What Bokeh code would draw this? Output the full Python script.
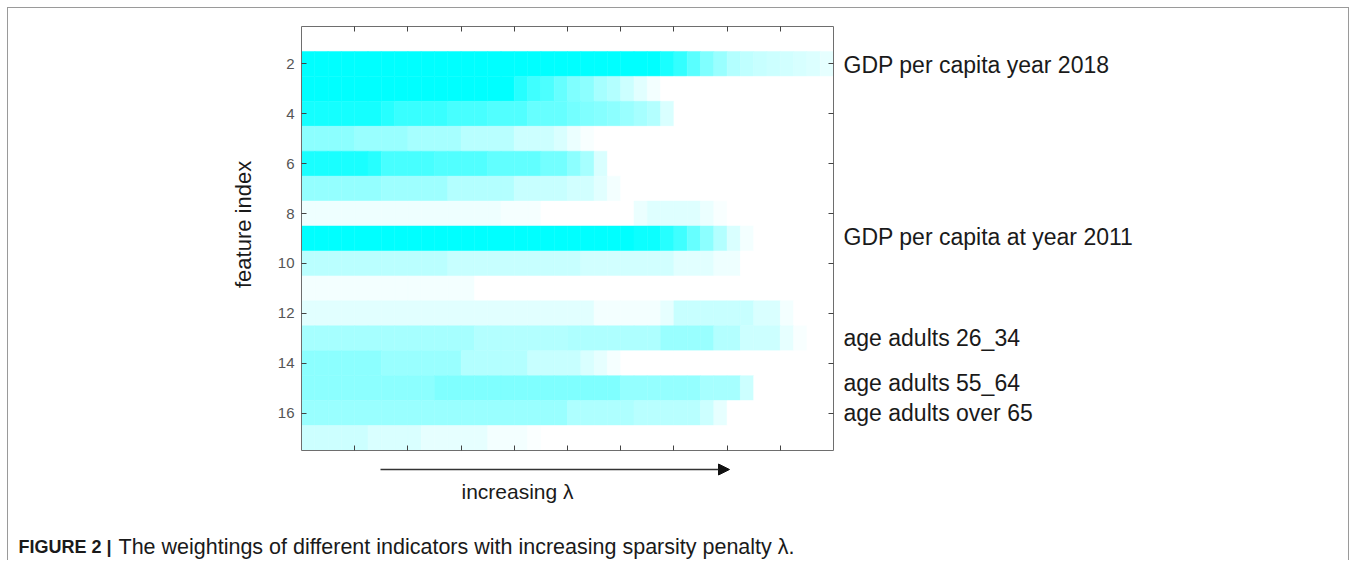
from bokeh.plotting import figure
from bokeh.layouts import column, row
from bokeh.models import Range1d, LinearAxis, FixedTicker, Arrow, NormalHead, ColumnDataSource
from bokeh.core.properties import value
from bokeh.transform import linear_cmap
from bokeh.embed import file_html
from bokeh.resources import INLINE

# ---- data: weight of each feature (rows 1..17) along 40 lambda steps (0 = none, 1 = max) ----
feat01 = [0, 0, 0, 0, 0, 0, 0, 0, 0, 0, 0, 0, 0, 0, 0, 0, 0, 0, 0, 0,
          0, 0, 0, 0, 0, 0, 0, 0, 0, 0, 0, 0, 0, 0, 0, 0, 0, 0, 0, 0]
feat02 = [1, 1, 1, 1, 1, 1, 1, 1, 1, 1, 1, 1, 1, 1, 1, 1, 1, 1, 1, 1,
          1, 1, 1, 1, 1, 1, 1, 0.9, 0.8, 0.65, 0.5, 0.4, 0.3, 0.25, 0.22, 0.2, 0.18, 0.16, 0.14, 0.1]
feat03 = [1, 1, 1, 1, 1, 1, 1, 1, 1, 1, 1, 1, 1, 1, 1, 1, 0.85, 0.75, 0.7, 0.6,
          0.5, 0.45, 0.35, 0.3, 0.2, 0.12, 0.05, 0, 0, 0, 0, 0, 0, 0, 0, 0, 0, 0, 0, 0]
feat04 = [0.92, 0.92, 0.92, 0.92, 0.92, 0.92, 0.85, 0.78, 0.78, 0.78, 0.78, 0.72, 0.72, 0.72, 0.68, 0.68, 0.68, 0.6, 0.6, 0.6,
          0.55, 0.5, 0.48, 0.45, 0.4, 0.35, 0.3, 0.15, 0, 0, 0, 0, 0, 0, 0, 0, 0, 0, 0, 0]
feat05 = [0.45, 0.45, 0.45, 0.45, 0.4, 0.4, 0.4, 0.4, 0.35, 0.35, 0.35, 0.35, 0.28, 0.28, 0.28, 0.28, 0.2, 0.2, 0.2, 0.15,
          0.08, 0.03, 0, 0, 0, 0, 0, 0, 0, 0, 0, 0, 0, 0, 0, 0, 0, 0, 0, 0]
feat06 = [0.9, 0.9, 0.9, 0.9, 0.9, 0.85, 0.72, 0.72, 0.72, 0.72, 0.68, 0.68, 0.68, 0.68, 0.62, 0.62, 0.62, 0.62, 0.55, 0.55,
          0.45, 0.35, 0.15, 0, 0, 0, 0, 0, 0, 0, 0, 0, 0, 0, 0, 0, 0, 0, 0, 0]
feat07 = [0.42, 0.42, 0.42, 0.42, 0.42, 0.42, 0.38, 0.38, 0.38, 0.38, 0.38, 0.3, 0.3, 0.3, 0.3, 0.3, 0.22, 0.22, 0.22, 0.22,
          0.18, 0.18, 0.12, 0.05, 0, 0, 0, 0, 0, 0, 0, 0, 0, 0, 0, 0, 0, 0, 0, 0]
feat08 = [0.07, 0.07, 0.07, 0.07, 0.07, 0.07, 0.07, 0.07, 0.07, 0.07, 0.07, 0.07, 0.07, 0.07, 0.07, 0.04, 0.04, 0.04, 0, 0,
          0, 0, 0, 0, 0, 0.08, 0.13, 0.13, 0.13, 0.13, 0.08, 0.03, 0, 0, 0, 0, 0, 0, 0, 0]
feat09 = [1, 1, 1, 1, 1, 1, 1, 1, 1, 1, 1, 1, 1, 1, 1, 1, 1, 1, 1, 1,
          1, 1, 1, 1, 1, 0.95, 0.95, 0.85, 0.75, 0.6, 0.45, 0.3, 0.15, 0.05, 0, 0, 0, 0, 0, 0]
feat10 = [0.27, 0.27, 0.27, 0.27, 0.27, 0.27, 0.27, 0.27, 0.27, 0.27, 0.27, 0.22, 0.22, 0.22, 0.22, 0.22, 0.22, 0.22, 0.22, 0.22,
          0.22, 0.18, 0.18, 0.18, 0.18, 0.18, 0.18, 0.18, 0.12, 0.12, 0.12, 0.07, 0.07, 0, 0, 0, 0, 0, 0, 0]
feat11 = [0.05, 0.05, 0.05, 0.05, 0.05, 0.05, 0.05, 0.05, 0.05, 0.05, 0.05, 0.05, 0.05, 0, 0, 0, 0, 0, 0, 0,
          0, 0, 0, 0, 0, 0, 0, 0, 0, 0, 0, 0, 0, 0, 0, 0, 0, 0, 0, 0]
feat12 = [0.12, 0.12, 0.12, 0.12, 0.12, 0.12, 0.12, 0.12, 0.12, 0.12, 0.12, 0.12, 0.12, 0.12, 0.12, 0.12, 0.12, 0.12, 0.12, 0.12,
          0.12, 0.12, 0.05, 0.05, 0.05, 0.05, 0.05, 0.1, 0.22, 0.22, 0.22, 0.22, 0.22, 0.22, 0.15, 0.15, 0.05, 0, 0, 0]
feat13 = [0.35, 0.35, 0.35, 0.35, 0.35, 0.35, 0.35, 0.35, 0.35, 0.35, 0.35, 0.35, 0.35, 0.3, 0.3, 0.3, 0.3, 0.3, 0.3, 0.3,
          0.32, 0.32, 0.32, 0.32, 0.32, 0.32, 0.32, 0.4, 0.4, 0.4, 0.4, 0.3, 0.3, 0.2, 0.2, 0.2, 0.1, 0.03, 0, 0]
feat14 = [0.45, 0.45, 0.45, 0.45, 0.45, 0.45, 0.4, 0.4, 0.4, 0.4, 0.4, 0.4, 0.3, 0.3, 0.3, 0.3, 0.3, 0.22, 0.22, 0.22,
          0.22, 0.15, 0.1, 0.04, 0, 0, 0, 0, 0, 0, 0, 0, 0, 0, 0, 0, 0, 0, 0, 0]
feat15 = [0.45, 0.45, 0.45, 0.45, 0.45, 0.45, 0.45, 0.45, 0.45, 0.45, 0.5, 0.5, 0.5, 0.5, 0.5, 0.5, 0.5, 0.5, 0.5, 0.5,
          0.5, 0.5, 0.5, 0.5, 0.42, 0.42, 0.42, 0.42, 0.42, 0.42, 0.35, 0.35, 0.35, 0.2, 0, 0, 0, 0, 0, 0]
feat16 = [0.4, 0.4, 0.4, 0.4, 0.4, 0.4, 0.4, 0.4, 0.4, 0.4, 0.4, 0.4, 0.4, 0.4, 0.4, 0.4, 0.4, 0.4, 0.4, 0.4,
          0.32, 0.32, 0.32, 0.32, 0.32, 0.28, 0.28, 0.28, 0.28, 0.28, 0.2, 0.1, 0, 0, 0, 0, 0, 0, 0, 0]
feat17 = [0.2, 0.2, 0.2, 0.2, 0.2, 0.15, 0.15, 0.15, 0.15, 0.1, 0.1, 0.1, 0.1, 0.1, 0.05, 0.05, 0.05, 0.02, 0, 0,
          0, 0, 0, 0, 0, 0, 0, 0, 0, 0, 0, 0, 0, 0, 0, 0, 0, 0, 0, 0]

features = [feat01, feat02, feat03, feat04, feat05, feat06, feat07, feat08, feat09,
            feat10, feat11, feat12, feat13, feat14, feat15, feat16, feat17]

y_ticks = [2, 4, 6, 8, 10, 12, 14, 16]
x_ticks = [4, 8, 12, 16, 20, 24, 28, 32, 36]

label_rows = [2.05, 8.92, 13.0, 14.78, 15.98]
label_texts = ["GDP per capita year 2018", "GDP per capita at year 2011",
               "age adults 26_34", "age adults 55_64", "age adults over 65"]

y_title = "feature index"
x_title = "increasing \u03bb"
caption_bold = "FIGURE 2 |"
caption_text = "The weightings of different indicators with increasing sparsity penalty \u03bb."

FONT = "Liberation Sans"
TXT = "#1a1a1a"

# ---- heatmap cell table ----
xs, ys, ws = [], [], []
for i, rw in enumerate(features):
    for j, v in enumerate(rw):
        xs.append(j + 0.5)
        ys.append(i + 1)
        ws.append(v)
src = ColumnDataSource(dict(x=xs, y=ys, w=ws))

palette = ["#%02xffff" % int(round(255 * (1 - k / 255))) for k in range(256)]

yr = Range1d(17.5, 0.5)

# ---- main heatmap figure ----
fm = figure(width=573, height=452, output_backend="svg", toolbar_location=None,
            x_range=Range1d(0, 40), y_range=yr,
            min_border_left=31, min_border_right=10, min_border_top=18, min_border_bottom=10)
fm.grid.visible = False
fm.outline_line_color = None

cmap = linear_cmap("w", palette, 0, 1)
fm.rect(x="x", y="y", width=1, height=1, source=src, fill_color=cmap,
        line_color=cmap, line_width=0.5)

AX = "#6e6e6e"

def style_axis(ax, labels):
    ax.axis_line_color = AX
    ax.axis_line_width = 1
    ax.major_tick_line_color = "#444444"
    ax.major_tick_in = 5
    ax.major_tick_out = 0
    ax.minor_tick_in = 0
    ax.minor_tick_out = 0
    if not labels:
        ax.major_label_text_font_size = "0px"
        ax.major_label_text_color = None
        ax.major_label_standoff = 0

fm.xaxis.ticker = FixedTicker(ticks=x_ticks)
style_axis(fm.xaxis[0], False)
fm.yaxis.ticker = FixedTicker(ticks=y_ticks)
style_axis(fm.yaxis[0], True)
fm.yaxis.major_label_text_font = FONT
fm.yaxis.major_label_text_font_size = "15px"
fm.yaxis.major_label_text_color = "#555555"
fm.yaxis.major_label_standoff = 7

top = LinearAxis(ticker=FixedTicker(ticks=x_ticks))
style_axis(top, False)
fm.add_layout(top, "above")
right = LinearAxis(ticker=FixedTicker(ticks=y_ticks))
style_axis(right, False)
fm.add_layout(right, "right")

# ---- left strip: y-axis title ----
fl = figure(width=262, height=452, output_backend="svg", toolbar_location=None,
            x_range=Range1d(8, 270), y_range=Range1d(460, 8), min_border=0,
            x_axis_type=None, y_axis_type=None)
fl.grid.visible = False
fl.outline_line_color = None
fl.text(x=[243], y=[219], text=[y_title], angle=1.5708, text_align="center",
        text_baseline="middle", text_font=value(FONT), text_font_size="22px", text_color=TXT)

# ---- right strip: feature names (shares the feature-index scale) ----
fr = figure(width=505, height=452, output_backend="svg", toolbar_location=None,
            x_range=Range1d(843, 1348), y_range=yr, min_border=0,
            min_border_top=18, min_border_bottom=10, x_axis_type=None, y_axis_type=None)
fr.grid.visible = False
fr.outline_line_color = None
fr.text(x=[843] * len(label_rows), y=label_rows, text=label_texts, text_baseline="middle",
        text_font=value(FONT), text_font_size="23px", text_color=TXT)

# ---- bottom strip: arrow, x title and caption ----
fb = figure(width=1340, height=100, output_backend="svg", toolbar_location=None,
            x_range=Range1d(8, 1348), y_range=Range1d(560, 460), min_border=0,
            x_axis_type=None, y_axis_type=None)
fb.grid.visible = False
fb.outline_line_color = None
fb.add_layout(Arrow(x_start=380, y_start=469, x_end=729, y_end=469,
                    line_color="#333333", line_width=1.5,
                    end=NormalHead(size=11, fill_color="#111111", line_color="#111111")))
fb.text(x=[517], y=[491], text=[x_title], text_align="center", text_baseline="middle",
        text_font=value(FONT), text_font_size="21px", text_color=TXT)
fb.text(x=[18], y=[546], text=[caption_bold], text_baseline="middle",
        text_font=value(FONT), text_font_size="18px", text_font_style="bold", text_color=TXT)
fb.text(x=[118], y=[546], text=[caption_text], text_baseline="middle",
        text_font=value(FONT), text_font_size="21.5px", text_color=TXT)

layout = column(row(fl, fm, fr), fb,
                styles={"margin-left": "7px", "margin-top": "7px",
                        "border-left": "1px solid #9a9a9a", "border-top": "1px solid #9a9a9a",
                        "border-right": "1px solid #9a9a9a"})

open("out.html", "w").write(file_html(layout, INLINE))
